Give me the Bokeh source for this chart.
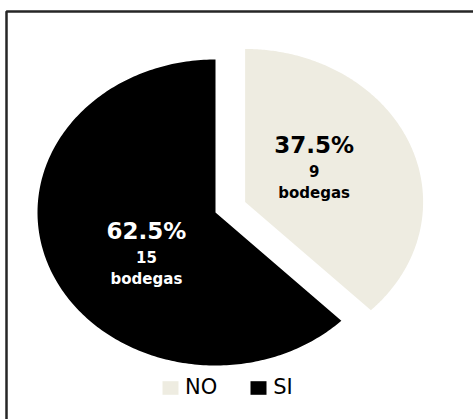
import numpy as np
from bokeh.plotting import figure
from bokeh.models import Range1d, ColumnDataSource, Legend, LegendItem
from bokeh.core.properties import value
from bokeh.embed import file_html
from bokeh.resources import INLINE

# ---- data ----
categories = ["NO", "SI"]
counts = [9, 15]
percent_labels = ["37.5%", "62.5%"]
count_labels = ["9", "15"]
unit_labels = ["bodegas", "bodegas"]

# ---- style / layout ----
colors = ["#EEECE1", "#000000"]
label_colors = ["#000000", "#FFFFFF"]
explode = [0.18, 0.0]
W, H = 473, 419
RX, RY = 178, 153          # pixel radii of the (stretched) pie
CX, CY = 215, 212          # pixel centre of the pie
LABEL_R = 0.46
LABEL_ROT = np.deg2rad(10)
FONT = "DejaVu Sans"

p = figure(width=W, height=H, output_backend="svg", toolbar_location=None, tools="",
           x_range=Range1d(-CX / RX, (W - CX) / RX),
           y_range=Range1d(-(H - CY) / RY, CY / RY),
           min_border=0)
p.axis.visible = False
p.grid.visible = False
p.outline_line_color = None
p.background_fill_color = "white"
p.border_fill_color = "white"

# chart-area border (left and top edges visible in the reference)
bx0 = (6 - CX) / RX
by0 = (CY - 11) / RY
p.line(x=[bx0, bx0, (W + 5 - CX) / RX], y=[-(H + 5 - CY) / RY, by0, by0],
       line_color="#262626", line_width=2.5)

total = float(sum(counts))
frac = np.array(counts) / total
cum = np.concatenate([[0.0], np.cumsum(frac)])

renderers = []
lx, ly = [], []
for i in range(len(categories)):
    a0 = np.pi / 2 - 2 * np.pi * cum[i]
    a1 = np.pi / 2 - 2 * np.pi * cum[i + 1]
    mid = (a0 + a1) / 2
    ox, oy = explode[i] * np.cos(mid), explode[i] * np.sin(mid)
    t = np.linspace(a0, a1, 240)
    xs = np.concatenate([[ox], ox + np.cos(t), [ox]])
    ys = np.concatenate([[oy], oy + np.sin(t), [oy]])
    r = p.patch(x=xs, y=ys, fill_color=colors[i], line_color=None)
    renderers.append(r)
    la = mid + LABEL_ROT
    lx.append(ox + LABEL_R * np.cos(la))
    ly.append(oy + LABEL_R * np.sin(la))

src = ColumnDataSource(dict(x=lx, y=ly, pct=percent_labels, cnt=count_labels,
                            unit=unit_labels, col=label_colors))
common = dict(x="x", y="y", text_color="col", text_align="center",
              text_baseline="alphabetic", text_font=value(FONT),
              text_font_style="bold", source=src)
p.text(text="pct", text_font_size="23px", y_offset=-19, **common)
p.text(text="cnt", text_font_size="15px", y_offset=7, **common)
p.text(text="unit", text_font_size="15px", y_offset=29, **common)

legend = Legend(items=[LegendItem(label=categories[i], renderers=[renderers[i]])
                       for i in range(len(categories))],
                orientation="horizontal", location=(160, 20),
                glyph_width=20, glyph_height=17, label_height=17,
                label_standoff=5, spacing=31, padding=0, margin=0,
                border_line_color=None, background_fill_alpha=0,
                label_text_font=FONT, label_text_font_size="21px",
                label_text_color="#000000")
p.add_layout(legend)

open("out.html", "w").write(file_html(p, INLINE))
